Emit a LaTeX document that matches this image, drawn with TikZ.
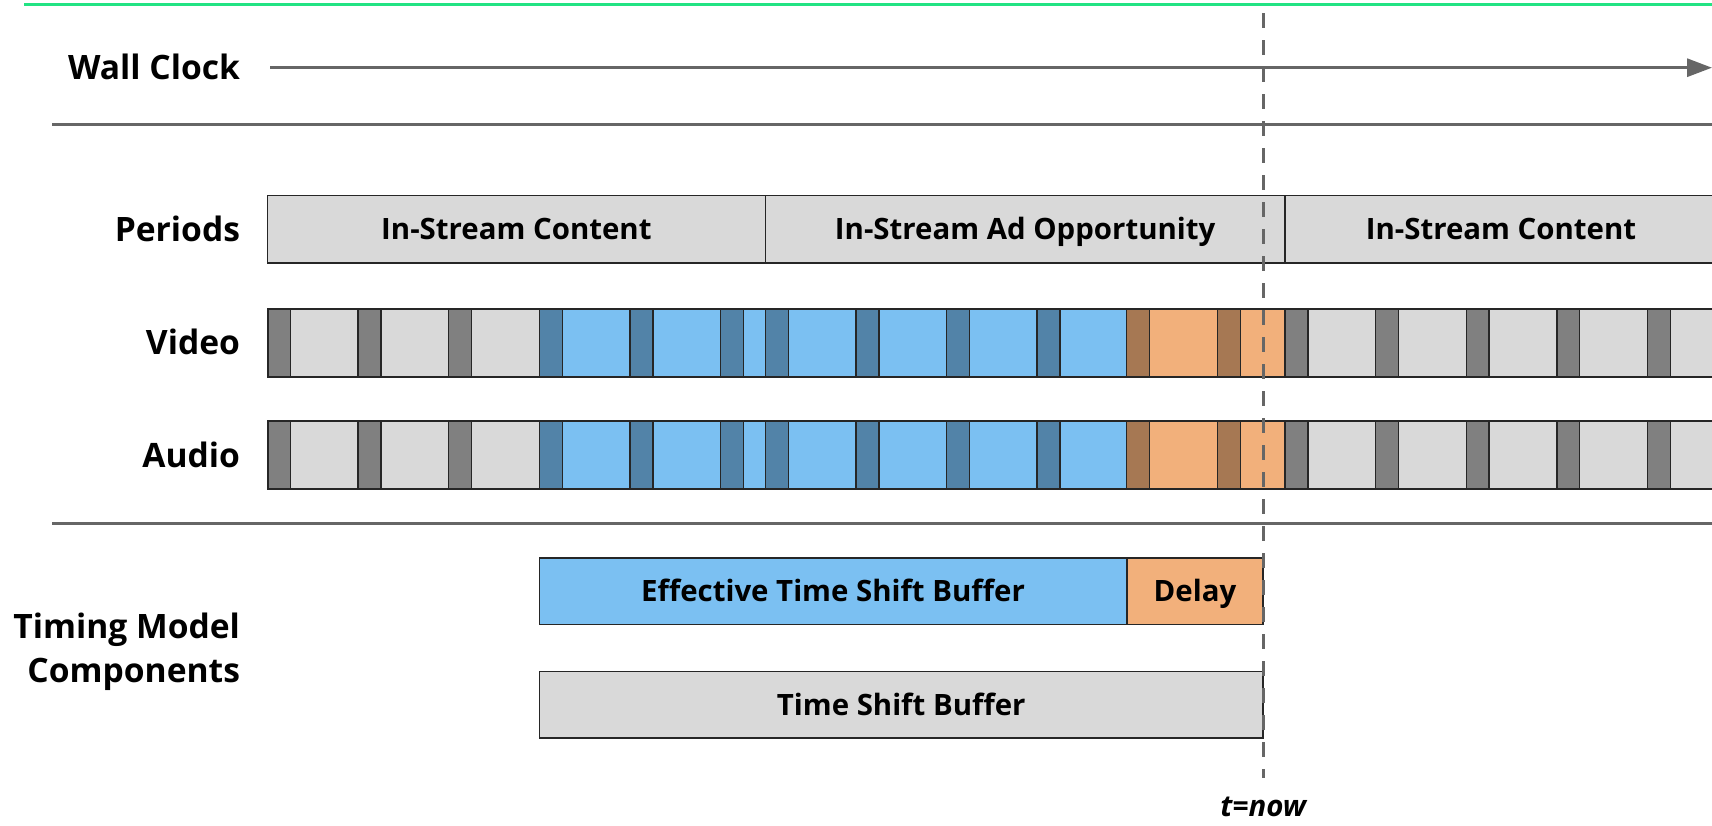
\documentclass[tikz,border=0pt]{standalone}
\usepackage{fontspec}
\setmainfont{Open Sans}
\usetikzlibrary{arrows.meta}
\definecolor{lgray}{HTML}{D9D9D9}
\definecolor{dgray}{HTML}{808080}
\definecolor{lblue}{HTML}{7BC0F2}
\definecolor{dblue}{HTML}{5283A8}
\definecolor{lorange}{HTML}{F2B07B}
\definecolor{segbrown}{HTML}{A67853}
\definecolor{linegray}{HTML}{666666}
\definecolor{topgreen}{HTML}{22E383}
\definecolor{boxline}{HTML}{262626}
\begin{document}
\begin{tikzpicture}[x=0.5pt,y=-0.5pt,
  rowlabel/.style={anchor=east, inner sep=0pt, outer sep=0pt, font=\fontsize{16.8}{20}\selectfont\bfseries, text height=12pt, text depth=0pt},
  boxtext/.style={font=\fontsize{14.7}{17}\selectfont\bfseries, text height=10.5pt, text depth=0pt},
  barbox/.style={draw=boxline, line width=0.8pt, inner sep=0pt, outer sep=0pt, anchor=north west, boxtext},
  sepline/.style={draw=linegray, line width=1.5pt},
  divider/.style={draw=boxline, line width=0.7pt},
  nowline/.style={draw=linegray, line width=1.5pt, dash pattern=on 7.5pt off 6pt}]
\useasboundingbox (0,0) rectangle (1712,825);

% top green line
\draw[topgreen, line width=1.25pt] (24,4.7) -- (1712,4.7);

% wall clock
\node[rowlabel] (wall) at (240,67.7) {Wall Clock};
\coordinate (clockend) at (1712,67.7);
\draw[sepline, -{Triangle[length=12.5pt,width=9pt]}] ([xshift=15pt]wall.east) -- (clockend);

% separators
\coordinate (s1a) at (52.4,124.5); \coordinate (s1b) at (1712,124.5);
\draw[sepline] (s1a) -- (s1b);
\coordinate (s2a) at (52.4,523); \coordinate (s2b) at (1712,523);
\draw[sepline] (s2a) -- (s2b);

% periods
\node[rowlabel] (lper) at (240,229.3) {Periods};
\node[barbox, fill=lgray, minimum width=248.9pt, minimum height=33.85pt] (p1) at (267.5,195.4) {In-Stream Content};
\node[barbox, fill=lgray, minimum width=259.85pt, minimum height=33.85pt] (p2) at (765.3,195.4) {In-Stream Ad Opportunity};
\node[barbox, fill=lgray, minimum width=216pt, minimum height=33.85pt] (p3) at (1285,195.4) {In-Stream Content};

% video / audio rows
\node[rowlabel] (lvid) at (240,342.9) {Video};
\node[rowlabel] (laud) at (240,455.3) {Audio};
\foreach \t in {309,421.4}{
  \pgfmathsetmacro{\b}{\t+67.7}
  \foreach \s/\e/\dc/\lc in {267.5/358.1/dgray/lgray, 358.1/448.7/dgray/lgray, 448.7/539.3/dgray/lgray,
     539.3/629.9/dblue/lblue, 629.9/720.5/dblue/lblue, 720.5/765.3/dblue/lblue, 765.3/855.9/dblue/lblue,
     855.9/946.5/dblue/lblue, 946.5/1037.1/dblue/lblue, 1037.1/1126.7/dblue/lblue,
     1126.7/1217.3/segbrown/lorange, 1217.3/1285/segbrown/lorange,
     1285/1375.6/dgray/lgray, 1375.6/1466.2/dgray/lgray, 1466.2/1556.8/dgray/lgray,
     1556.8/1647.4/dgray/lgray, 1647.4/1716/dgray/lgray}{
    \fill[\dc] (\s,\t) rectangle ({\s+22.9},\b);
    \fill[\lc] ({\s+22.9},\t) rectangle (\e,\b);
    \draw[divider] (\s,\t) -- (\s,\b);
    \draw[divider] ({\s+22.9},\t) -- ({\s+22.9},\b);
  }
  \draw[boxline, line width=1pt] (1716,\t) -- (267.5,\t) -- (267.5,\b) -- (1716,\b);
}

% timing model components
\node[rowlabel] (tm1) at (240,626.7) {Timing Model};
\node[rowlabel] (tm2) at (240,670.4) {Components};
\node[barbox, fill=lblue, minimum width=293.7pt, minimum height=33.3pt] (etsb) at (539.3,557.9) {Effective Time Shift Buffer};
\node[barbox, fill=lorange, minimum width=68.25pt, minimum height=33.3pt] (delay) at (1126.7,557.9) {Delay};
\node[barbox, fill=lgray, minimum width=361.95pt, minimum height=33.3pt] (tsb) at (539.3,671.5) {Time Shift Buffer};

% now line
\coordinate (nowtop) at (1263.2,13);
\coordinate (nowbot) at (1263.2,778);
\draw[nowline] (nowtop) -- (nowbot);
\node[anchor=base, inner sep=0pt, font=\fontsize{14.7}{17}\selectfont\bfseries\itshape] (now) at (1263.2,816) {t=now};
\end{tikzpicture}
\end{document}
